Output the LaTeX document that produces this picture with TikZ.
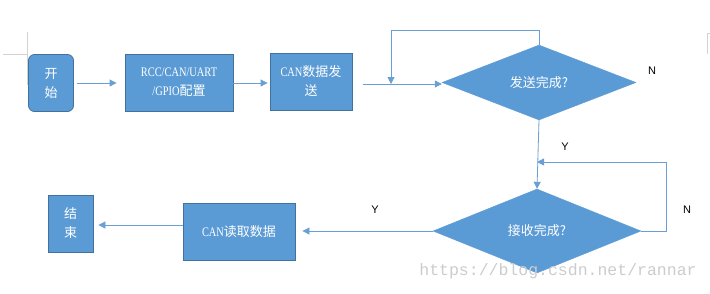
\documentclass[tikz,border=0pt]{standalone}
\usepackage{fontspec}
\newfontfamily\cjk{Noto Sans CJK SC}
\newfontfamily\latn[FakeStretch=0.8]{Liberation Serif}
\newfontfamily\lbl{Liberation Sans}
\newfontfamily\wmfont{Liberation Mono}
\usetikzlibrary{shapes.geometric,arrows.meta}
\definecolor{boxblue}{HTML}{5B9BD5}
\definecolor{boxline}{HTML}{41719C}
\definecolor{lineblue}{HTML}{6A9FD3}

\begin{document}
\begin{tikzpicture}[x=1pt, y=-1pt,
    every node/.style={font=\fontsize{13}{19}\cjk, text=white},
    blk/.style={draw=boxline, fill=boxblue, line width=0.8pt, inner sep=0pt, align=center},
    dec/.style={diamond, draw=boxblue, fill=boxblue, inner sep=0pt},
    arr/.style={draw=lineblue, line width=0.8pt, -{Triangle[length=7pt,width=7pt]}},
    yn/.style={font=\fontsize{11}{13}\lbl, text=black}]
    \useasboundingbox (0,0) rectangle (710,293);

    % page marks
    \draw[gray!35, thin] (27,32) -- (27,85);
    \draw[gray!35, thin] (3,54) -- (27,54);
    \draw[gray!35, thin] (707,54) -- (707,33) -- (710,33);

    % blocks
    \node[blk, rounded corners=6pt, minimum width=45, minimum height=57] (start) at (51,83) {开\\始};
    \node[blk, minimum width=108, minimum height=57] (init) at (179,82.5) {{\latn RCC/CAN/UART}\\{\latn /GPIO}配置};
    \node[blk, minimum width=82, minimum height=57] (send) at (311,81.5) {{\latn CAN}数据发\\送};
    \node[dec, minimum width=194, minimum height=75] (sendq) at (539,82.5) {发送完成?};
    \node[dec, minimum width=208, minimum height=84] (recvq) at (537,231) {接收完成?};
    \node[blk, minimum width=112, minimum height=57] (read) at (239,231.5) {{\latn CAN}读取数据};
    \node[blk, minimum width=45, minimum height=57] (stop) at (70.5,223.5) {结\\束};

    % connections
    \coordinate (sin) at (391,84);
    \coordinate (rin) at (537,162);
    \draw[arr, shorten <=3pt, shorten >=8pt] (start.east |- 0,83) -- (init.west |- 0,83);
    \draw[arr, shorten >=2pt] (init.east |- 0,83) -- (send.west |- 0,83);
    \draw[arr, shorten <=11pt] (send.east |- 0,84) -- (sendq.west |- 0,84);
    \draw[arr] (sendq.north) -- ++(0,-14) -| (sin);
    \draw[arr] (sendq.south) -- (recvq.north);
    \draw[arr] (recvq.east) -- ++(25,0) |- (rin);
    \draw[arr, shorten >=7pt] (recvq.west) -- (read.east |- recvq.west);
    \draw[arr, shorten >=5pt] (read.west |- 0,225) -- (stop.east |- 0,225);

    % labels
    \node[yn] (n1) at (652,71) {N};
    \node[yn] (y1) at (565,147) {Y};
    \node[yn] (n2) at (687,210) {N};
    \node[yn] (y2) at (375,210) {Y};

    % watermark
    \node[font=\fontsize{16.5}{18}\wmfont, text=gray!40] (wm) at (558,271) {https://blog.csdn.net/rannar};
\end{tikzpicture}
\end{document}
